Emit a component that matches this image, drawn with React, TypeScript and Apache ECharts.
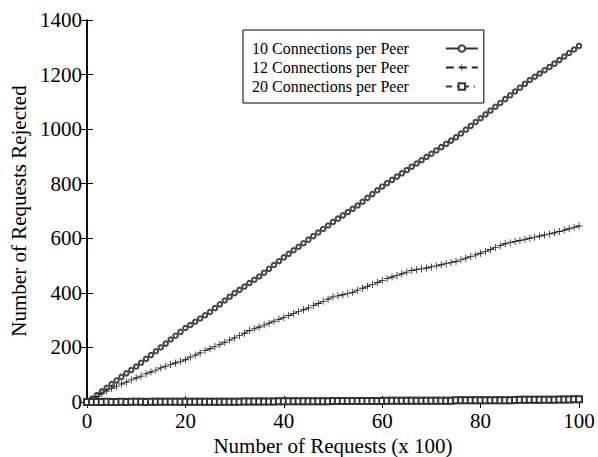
import React, { useEffect, useRef } from "react";
import * as echarts from "echarts";

const requestsX: number[] = Array.from({ length: 101 }, (_, i) => i);

const conn10: number[] = [
  0, 12, 25, 39, 52, 66, 79, 92, 105, 117,
  130, 144, 158, 172, 186, 200, 214, 229, 243, 257,
  271, 282, 294, 306, 318, 330, 344, 358, 372, 386,
  399, 411, 423, 436, 448, 460, 474, 488, 502, 516,
  530, 543, 556, 569, 582, 595, 608, 621, 634, 647,
  660, 672, 684, 696, 708, 720, 734, 748, 762, 776,
  790, 802, 814, 826, 838, 850, 862, 874, 886, 898,
  910, 922, 934, 946, 958, 970, 984, 998, 1012, 1026,
  1040, 1054, 1068, 1082, 1096, 1110, 1124, 1138, 1152, 1166,
  1180, 1192, 1204, 1216, 1228, 1240, 1253, 1266, 1279, 1292,
  1305,
];

const conn12: number[] = [
  0, 10, 20, 30, 40, 50, 58, 66, 73, 81,
  88, 95, 103, 110, 117, 125, 131, 137, 143, 149,
  155, 165, 172, 180, 188, 195, 203, 211, 219, 227,
  235, 243, 252, 262, 268, 275, 282, 289, 296, 303,
  310, 317, 324, 331, 338, 345, 353, 361, 369, 377,
  385, 389, 393, 397, 402, 410, 417, 424, 431, 438,
  445, 452, 458, 464, 470, 476, 482, 485, 488, 491,
  495, 499, 503, 507, 511, 515, 521, 527, 533, 539,
  545, 552, 559, 566, 573, 580, 584, 588, 592, 596,
  600, 604, 608, 612, 616, 620, 625, 630, 635, 640,
  645,
];

const conn20: number[] = [
  0, 0, 0, 0, 1, 0, 0, 1, 0, 1,
  1, 1, 0, 1, 1, 1, 1, 1, 1, 1,
  1, 1, 1, 1, 1, 1, 1, 1, 1, 1,
  1, 1, 2, 2, 2, 2, 2, 2, 2, 3,
  3, 3, 3, 3, 3, 3, 3, 3, 3, 3,
  4, 4, 4, 4, 4, 4, 4, 4, 4, 4,
  4, 5, 5, 5, 5, 5, 5, 5, 5, 5,
  5, 5, 5, 5, 5, 6, 6, 6, 6, 6,
  6, 6, 6, 6, 6, 6, 6, 7, 8, 8,
  8, 8, 8, 8, 8, 8, 9, 9, 9, 10,
  10,
];

const seriesNames = [
  "10 Connections per Peer",
  "12 Connections per Peer",
  "20 Connections per Peer",
];

const FONT = "'Liberation Serif', 'Times New Roman', serif";

export default function App() {
  const ref = useRef<HTMLDivElement>(null);
  useEffect(() => {
    if (!ref.current) return;
    const chart = echarts.init(ref.current, null, { renderer: "svg" });
    const pairs = (arr: number[]) => requestsX.map((x, i) => [x, arr[i]]);
    const axisLine = { show: true, lineStyle: { color: "#000", width: 1.5 } };
    const tick = { show: true, inside: true, length: 6, lineStyle: { color: "#000", width: 1 } };
    const label = { fontFamily: FONT, fontSize: 21, color: "#000", formatter: (v: number) => String(v) };
    chart.setOption({
      animation: false,
      backgroundColor: "#fff",
      grid: { left: 87, top: 20, right: 19, bottom: 55, outerBoundsMode: "none", containLabel: false },
      legend: {
        show: true,
        left: 243,
        top: 30,
        orient: "vertical",
        align: "right",
        itemGap: 0,
        itemWidth: 32,
        itemHeight: 8,
        padding: [9, 5, 7, 9],
        borderColor: "#000",
        borderWidth: 1,
        backgroundColor: "#fff",
        textStyle: { fontFamily: FONT, fontSize: 16, color: "#000", lineHeight: 19, padding: [0, 32, 0, 0] },
        data: seriesNames,
      },
      xAxis: [
        {
          type: "value",
          min: 0,
          max: 100,
          interval: 20,
          position: "bottom",
          axisLine,
          axisTick: tick,
          axisLabel: { ...label, margin: 8 },
          splitLine: { show: false },
          name: "Number of Requests (x 100)",
          nameLocation: "middle",
          nameGap: 32,
          nameTextStyle: { fontFamily: FONT, fontSize: 21, color: "#000" },
        },
        {
          type: "value",
          min: 0,
          max: 100,
          interval: 20,
          position: "top",
          axisLine,
          axisTick: tick,
          axisLabel: { show: false },
          splitLine: { show: false },
        },
      ],
      yAxis: [
        {
          type: "value",
          min: 0,
          max: 1400,
          interval: 200,
          position: "left",
          axisLine,
          axisTick: tick,
          axisLabel: { ...label, margin: 5 },
          splitLine: { show: false },
          name: "Number of Requests Rejected",
          nameLocation: "middle",
          nameGap: 55,
          nameTextStyle: { fontFamily: FONT, fontSize: 21, color: "#000" },
        },
        {
          type: "value",
          min: 0,
          max: 1400,
          interval: 200,
          position: "right",
          axisLine,
          axisTick: tick,
          axisLabel: { show: false },
          splitLine: { show: false },
        },
      ],
      series: [
        {
          name: seriesNames[0],
          type: "line",
          data: pairs(conn10),
          symbol: "emptyCircle",
          symbolSize: 4.5,
          showAllSymbol: true,
          lineStyle: { color: "#333", width: 1, type: "solid" },
          itemStyle: { color: "#444", borderColor: "#444", borderWidth: 0.8 },
        },
        {
          name: seriesNames[1],
          type: "line",
          data: pairs(conn12),
          symbol: "path://M4.4,0H5.6V4.4H10V5.6H5.6V10H4.4V5.6H0V4.4H4.4Z",
          symbolSize: 7,
          showAllSymbol: true,
          lineStyle: { color: "#222", width: 1, type: [8, 5] },
          itemStyle: { color: "#222", borderWidth: 0 },
        },
        {
          name: seriesNames[2],
          type: "line",
          data: pairs(conn20),
          symbol: "emptyRect",
          symbolSize: 6,
          showAllSymbol: true,
          lineStyle: { color: "#333", width: 1, type: [6, 5, 1, 5] },
          itemStyle: { color: "#333", borderColor: "#333", borderWidth: 0.9 },
        },
      ],
    });
    return () => chart.dispose();
  }, []);
  return <div ref={ref} style={{ width: 598, height: 457, position: "absolute", left: 0, top: 0 }} />;
}
